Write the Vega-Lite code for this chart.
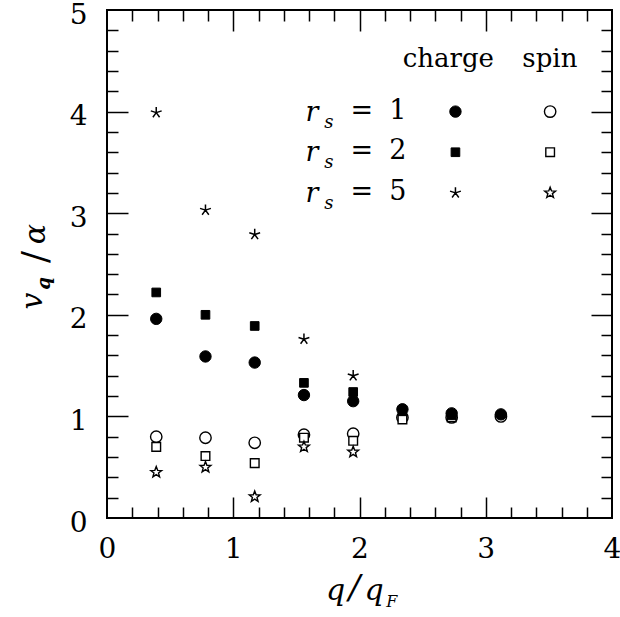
{
  "$schema": "https://vega.github.io/schema/vega-lite/v6.json",
  "width": 505,
  "height": 508,
  "autosize": {"type": "none"},
  "padding": {"left": 107, "top": 10, "right": 8, "bottom": 99},
  "background": "white",
  "config": {
    "view": {"stroke": "black", "strokeWidth": 2},
    "axis": {"grid": false, "domain": false, "tickColor": "black", "tickWidth": 1.5, "labelColor": "black", "labelFont": "DejaVu Serif", "labelFontSize": 28, "labelFlush": false, "labelOverlap": false, "labelBound": false}
  },
  "datasets": {
    "points": [
      {"series": "c1", "role": "data", "q": 0.39, "v": 1.96},
      {"series": "c1", "role": "data", "q": 0.78, "v": 1.59},
      {"series": "c1", "role": "data", "q": 1.17, "v": 1.53},
      {"series": "c1", "role": "data", "q": 1.56, "v": 1.21},
      {"series": "c1", "role": "data", "q": 1.95, "v": 1.15},
      {"series": "c1", "role": "data", "q": 2.34, "v": 1.07},
      {"series": "c1", "role": "data", "q": 2.73, "v": 1.03},
      {"series": "c1", "role": "data", "q": 3.12, "v": 1.02},
      {"series": "c1", "role": "key", "q": 2.76, "v": 4.0},
      {"series": "s1", "role": "data", "q": 0.39, "v": 0.8},
      {"series": "s1", "role": "data", "q": 0.78, "v": 0.79},
      {"series": "s1", "role": "data", "q": 1.17, "v": 0.74},
      {"series": "s1", "role": "data", "q": 1.56, "v": 0.82},
      {"series": "s1", "role": "data", "q": 1.95, "v": 0.83},
      {"series": "s1", "role": "data", "q": 2.34, "v": 0.99},
      {"series": "s1", "role": "data", "q": 2.73, "v": 0.99},
      {"series": "s1", "role": "data", "q": 3.12, "v": 1.0},
      {"series": "s1", "role": "key", "q": 3.51, "v": 4.0},
      {"series": "c2", "role": "data", "q": 0.39, "v": 2.22},
      {"series": "c2", "role": "data", "q": 0.78, "v": 2.0},
      {"series": "c2", "role": "data", "q": 1.17, "v": 1.89},
      {"series": "c2", "role": "data", "q": 1.56, "v": 1.33},
      {"series": "c2", "role": "data", "q": 1.95, "v": 1.24},
      {"series": "c2", "role": "data", "q": 2.34, "v": 1.05},
      {"series": "c2", "role": "data", "q": 2.73, "v": 1.01},
      {"series": "c2", "role": "key", "q": 2.76, "v": 3.6},
      {"series": "s2", "role": "data", "q": 0.39, "v": 0.7},
      {"series": "s2", "role": "data", "q": 0.78, "v": 0.61},
      {"series": "s2", "role": "data", "q": 1.17, "v": 0.54},
      {"series": "s2", "role": "data", "q": 1.56, "v": 0.79},
      {"series": "s2", "role": "data", "q": 1.95, "v": 0.76},
      {"series": "s2", "role": "data", "q": 2.34, "v": 0.97},
      {"series": "s2", "role": "data", "q": 2.73, "v": 0.99},
      {"series": "s2", "role": "key", "q": 3.51, "v": 3.6},
      {"series": "c5", "role": "data", "q": 0.39, "v": 3.99},
      {"series": "c5", "role": "data", "q": 0.78, "v": 3.03},
      {"series": "c5", "role": "data", "q": 1.17, "v": 2.79},
      {"series": "c5", "role": "data", "q": 1.56, "v": 1.76},
      {"series": "c5", "role": "data", "q": 1.95, "v": 1.4},
      {"series": "c5", "role": "key", "q": 2.76, "v": 3.2},
      {"series": "s5", "role": "data", "q": 0.39, "v": 0.45},
      {"series": "s5", "role": "data", "q": 0.78, "v": 0.5},
      {"series": "s5", "role": "data", "q": 1.17, "v": 0.21},
      {"series": "s5", "role": "data", "q": 1.56, "v": 0.7},
      {"series": "s5", "role": "data", "q": 1.95, "v": 0.65},
      {"series": "s5", "role": "key", "q": 3.51, "v": 3.2}
    ],
    "legendrows": [
      {"rs": "1", "v": 4.0},
      {"rs": "2", "v": 3.6},
      {"rs": "5", "v": 3.2}
    ]
  },
  "layer": [
    {
      "data": {"name": "points"},
      "mark": {"type": "point", "opacity": 0},
      "encoding": {
        "x": {"field": "q", "type": "quantitative", "scale": {"domain": [0, 4], "nice": false, "zero": false},
              "axis": {"orient": "bottom", "values": [0, 1, 2, 3, 4], "format": "d", "ticks": false, "labelPadding": 17, "title": null}},
        "y": {"field": "v", "type": "quantitative", "scale": {"domain": [0, 5], "nice": false, "zero": false},
              "axis": {"orient": "left", "values": [0, 1, 2, 3, 4, 5], "format": "d", "ticks": false, "labelPadding": 20, "labelOffset": 5, "title": null}}
      }
    },
    {
      "data": {"name": "points"},
      "mark": {"type": "point", "opacity": 0},
      "encoding": {
        "x": {"field": "q", "type": "quantitative", "scale": {"domain": [0, 4], "nice": false, "zero": false},
              "axis": {"orient": "bottom", "values": [1, 2, 3], "labels": false, "tickSize": -21, "title": null}},
        "y": {"field": "v", "type": "quantitative", "scale": {"domain": [0, 5], "nice": false, "zero": false},
              "axis": {"orient": "left", "values": [1, 2, 3, 4], "labels": false, "tickSize": -21, "title": null}}
      }
    },
    {
      "data": {"name": "points"},
      "mark": {"type": "point", "opacity": 0},
      "encoding": {
        "x": {"field": "q", "type": "quantitative", "scale": {"domain": [0, 4], "nice": false, "zero": false},
              "axis": {"orient": "bottom", "values": [0.2, 0.4, 0.6, 0.8, 1.2, 1.4, 1.6, 1.8, 2.2, 2.4, 2.6, 2.8, 3.2, 3.4, 3.6, 3.8], "labels": false, "tickSize": -11, "title": null}},
        "y": {"field": "v", "type": "quantitative", "scale": {"domain": [0, 5], "nice": false, "zero": false},
              "axis": {"orient": "left", "values": [0.2, 0.4, 0.6, 0.8, 1.2, 1.4, 1.6, 1.8, 2.2, 2.4, 2.6, 2.8, 3.2, 3.4, 3.6, 3.8, 4.2, 4.4, 4.6, 4.8], "labels": false, "tickSize": -11, "title": null}}
      }
    },
    {
      "data": {"name": "points"},
      "mark": {"type": "point", "opacity": 0},
      "encoding": {
        "x": {"field": "q", "type": "quantitative", "scale": {"domain": [0, 4], "nice": false, "zero": false},
              "axis": {"orient": "top", "values": [1, 2, 3], "labels": false, "tickSize": -21, "title": null}},
        "y": {"field": "v", "type": "quantitative", "scale": {"domain": [0, 5], "nice": false, "zero": false},
              "axis": {"orient": "right", "values": [1, 2, 3, 4], "labels": false, "tickSize": -21, "title": null}}
      }
    },
    {
      "data": {"name": "points"},
      "mark": {"type": "point", "opacity": 0},
      "encoding": {
        "x": {"field": "q", "type": "quantitative", "scale": {"domain": [0, 4], "nice": false, "zero": false},
              "axis": {"orient": "top", "values": [0.2, 0.4, 0.6, 0.8, 1.2, 1.4, 1.6, 1.8, 2.2, 2.4, 2.6, 2.8, 3.2, 3.4, 3.6, 3.8], "labels": false, "tickSize": -11, "title": null}},
        "y": {"field": "v", "type": "quantitative", "scale": {"domain": [0, 5], "nice": false, "zero": false},
              "axis": {"orient": "right", "values": [0.2, 0.4, 0.6, 0.8, 1.2, 1.4, 1.6, 1.8, 2.2, 2.4, 2.6, 2.8, 3.2, 3.4, 3.6, 3.8, 4.2, 4.4, 4.6, 4.8], "labels": false, "tickSize": -11, "title": null}}
      }
    },
    {
      "data": {"name": "points"},
      "transform": [{"filter": "datum.series === 's1'"}],
      "mark": {"type": "point", "shape": "circle", "filled": true, "fill": "white", "stroke": "black", "strokeWidth": 1.4, "size": 130, "opacity": 1},
      "encoding": {
        "x": {"field": "q", "type": "quantitative", "scale": {"domain": [0, 4], "nice": false, "zero": false}, "axis": null},
        "y": {"field": "v", "type": "quantitative", "scale": {"domain": [0, 5], "nice": false, "zero": false}, "axis": null}
      }
    },
    {
      "data": {"name": "points"},
      "transform": [{"filter": "datum.series === 's2'"}],
      "mark": {"type": "point", "shape": "square", "filled": true, "fill": "white", "stroke": "black", "strokeWidth": 1.4, "size": 75, "opacity": 1},
      "encoding": {
        "x": {"field": "q", "type": "quantitative", "scale": {"domain": [0, 4], "nice": false, "zero": false}, "axis": null},
        "y": {"field": "v", "type": "quantitative", "scale": {"domain": [0, 5], "nice": false, "zero": false}, "axis": null}
      }
    },
    {
      "data": {"name": "points"},
      "transform": [{"filter": "datum.series === 's5'"}],
      "mark": {"type": "point", "shape": "M0,-1L0.247,-0.34L0.951,-0.309L0.399,0.13L0.588,0.809L0,0.42L-0.588,0.809L-0.399,0.13L-0.951,-0.309L-0.247,-0.34Z", "filled": true, "fill": "white", "stroke": "black", "strokeWidth": 1.4, "size": 130, "opacity": 1},
      "encoding": {
        "x": {"field": "q", "type": "quantitative", "scale": {"domain": [0, 4], "nice": false, "zero": false}, "axis": null},
        "y": {"field": "v", "type": "quantitative", "scale": {"domain": [0, 5], "nice": false, "zero": false}, "axis": null}
      }
    },
    {
      "data": {"name": "points"},
      "transform": [{"filter": "datum.series === 'c1'"}],
      "mark": {"type": "point", "shape": "circle", "filled": true, "fill": "black", "stroke": "black", "strokeWidth": 1, "size": 130, "opacity": 1},
      "encoding": {
        "x": {"field": "q", "type": "quantitative", "scale": {"domain": [0, 4], "nice": false, "zero": false}, "axis": null},
        "y": {"field": "v", "type": "quantitative", "scale": {"domain": [0, 5], "nice": false, "zero": false}, "axis": null}
      }
    },
    {
      "data": {"name": "points"},
      "transform": [{"filter": "datum.series === 'c2'"}],
      "mark": {"type": "point", "shape": "square", "filled": true, "fill": "black", "stroke": "black", "strokeWidth": 1, "size": 75, "opacity": 1},
      "encoding": {
        "x": {"field": "q", "type": "quantitative", "scale": {"domain": [0, 4], "nice": false, "zero": false}, "axis": null},
        "y": {"field": "v", "type": "quantitative", "scale": {"domain": [0, 5], "nice": false, "zero": false}, "axis": null}
      }
    },
    {
      "data": {"name": "points"},
      "transform": [{"filter": "datum.series === 'c5'"}],
      "mark": {"type": "point", "shape": "M0,-1L0,0M0.951,-0.309L0,0M0.588,0.809L0,0M-0.588,0.809L0,0M-0.951,-0.309L0,0", "filled": false, "stroke": "black", "strokeWidth": 1.5, "size": 130, "opacity": 1},
      "encoding": {
        "x": {"field": "q", "type": "quantitative", "scale": {"domain": [0, 4], "nice": false, "zero": false}, "axis": null},
        "y": {"field": "v", "type": "quantitative", "scale": {"domain": [0, 5], "nice": false, "zero": false}, "axis": null}
      }
    },
    {
      "data": {"values": [{"label": "charge"}]},
      "mark": {"type": "text", "font": "DejaVu Serif", "fontSize": 26, "align": "center", "baseline": "alphabetic", "color": "black"},
      "encoding": {
        "x": {"datum": 2.704, "type": "quantitative", "scale": {"domain": [0, 4], "nice": false, "zero": false}, "axis": null},
        "y": {"datum": 4.442, "type": "quantitative", "scale": {"domain": [0, 5], "nice": false, "zero": false}, "axis": null},
        "text": {"field": "label"}
      }
    },
    {
      "data": {"values": [{"label": "spin"}]},
      "mark": {"type": "text", "font": "DejaVu Serif", "fontSize": 26, "align": "center", "baseline": "alphabetic", "color": "black"},
      "encoding": {
        "x": {"datum": 3.508, "type": "quantitative", "scale": {"domain": [0, 4], "nice": false, "zero": false}, "axis": null},
        "y": {"datum": 4.442, "type": "quantitative", "scale": {"domain": [0, 5], "nice": false, "zero": false}, "axis": null},
        "text": {"field": "label"}
      }
    },
    {
      "data": {"name": "legendrows"},
      "mark": {"type": "text", "font": "DejaVu Serif", "fontStyle": "italic", "fontSize": 27, "align": "center", "baseline": "alphabetic", "dy": 9, "color": "black", "text": "r"},
      "encoding": {
        "x": {"datum": 1.623, "type": "quantitative", "scale": {"domain": [0, 4], "nice": false, "zero": false}, "axis": null},
        "y": {"field": "v", "type": "quantitative", "scale": {"domain": [0, 5], "nice": false, "zero": false}, "axis": null}
      }
    },
    {
      "data": {"name": "legendrows"},
      "mark": {"type": "text", "font": "DejaVu Serif", "fontStyle": "italic", "fontSize": 18, "align": "center", "baseline": "alphabetic", "dy": 16, "color": "black", "text": "s"},
      "encoding": {
        "x": {"datum": 1.758, "type": "quantitative", "scale": {"domain": [0, 4], "nice": false, "zero": false}, "axis": null},
        "y": {"field": "v", "type": "quantitative", "scale": {"domain": [0, 5], "nice": false, "zero": false}, "axis": null}
      }
    },
    {
      "data": {"name": "legendrows"},
      "mark": {"type": "text", "font": "DejaVu Serif", "fontSize": 27, "align": "center", "baseline": "alphabetic", "dy": 7, "color": "black", "text": "="},
      "encoding": {
        "x": {"datum": 2.019, "type": "quantitative", "scale": {"domain": [0, 4], "nice": false, "zero": false}, "axis": null},
        "y": {"field": "v", "type": "quantitative", "scale": {"domain": [0, 5], "nice": false, "zero": false}, "axis": null}
      }
    },
    {
      "data": {"name": "legendrows"},
      "mark": {"type": "text", "font": "DejaVu Serif", "fontSize": 27, "align": "center", "baseline": "alphabetic", "dy": 7, "color": "black"},
      "encoding": {
        "x": {"datum": 2.304, "type": "quantitative", "scale": {"domain": [0, 4], "nice": false, "zero": false}, "axis": null},
        "y": {"field": "v", "type": "quantitative", "scale": {"domain": [0, 5], "nice": false, "zero": false}, "axis": null},
        "text": {"field": "rs"}
      }
    },
    {
      "data": {"values": [{"label": "q"}]},
      "mark": {"type": "text", "font": "DejaVu Serif", "fontStyle": "italic", "fontSize": 30, "align": "center", "baseline": "alphabetic", "color": "black"},
      "encoding": {
        "x": {"datum": 1.81, "type": "quantitative", "scale": {"domain": [0, 4], "nice": false, "zero": false}, "axis": null},
        "y": {"datum": -0.807, "type": "quantitative", "scale": {"domain": [0, 5], "nice": false, "zero": false}, "axis": null},
        "text": {"field": "label"}
      }
    },
    {
      "data": {"values": [{"label": "/"}]},
      "mark": {"type": "text", "font": "DejaVu Serif", "fontStyle": "italic", "fontSize": 34, "align": "center", "baseline": "alphabetic", "color": "black"},
      "encoding": {
        "x": {"datum": 1.96, "type": "quantitative", "scale": {"domain": [0, 4], "nice": false, "zero": false}, "axis": null},
        "y": {"datum": -0.8, "type": "quantitative", "scale": {"domain": [0, 5], "nice": false, "zero": false}, "axis": null},
        "text": {"field": "label"}
      }
    },
    {
      "data": {"values": [{"label": "q"}]},
      "mark": {"type": "text", "font": "DejaVu Serif", "fontStyle": "italic", "fontSize": 30, "align": "center", "baseline": "alphabetic", "color": "black"},
      "encoding": {
        "x": {"datum": 2.115, "type": "quantitative", "scale": {"domain": [0, 4], "nice": false, "zero": false}, "axis": null},
        "y": {"datum": -0.807, "type": "quantitative", "scale": {"domain": [0, 5], "nice": false, "zero": false}, "axis": null},
        "text": {"field": "label"}
      }
    },
    {
      "data": {"values": [{"label": "F"}]},
      "mark": {"type": "text", "font": "DejaVu Serif", "fontStyle": "italic", "fontSize": 16, "align": "center", "baseline": "alphabetic", "color": "black"},
      "encoding": {
        "x": {"datum": 2.255, "type": "quantitative", "scale": {"domain": [0, 4], "nice": false, "zero": false}, "axis": null},
        "y": {"datum": -0.876, "type": "quantitative", "scale": {"domain": [0, 5], "nice": false, "zero": false}, "axis": null},
        "text": {"field": "label"}
      }
    },
    {
      "data": {"values": [{"label": "v"}]},
      "mark": {"type": "text", "font": "DejaVu Serif", "fontStyle": "italic", "fontSize": 30, "align": "center", "baseline": "alphabetic", "angle": 270, "color": "black"},
      "encoding": {
        "x": {"datum": -0.515, "type": "quantitative", "scale": {"domain": [0, 4], "nice": false, "zero": false}, "axis": null},
        "y": {"datum": 2.136, "type": "quantitative", "scale": {"domain": [0, 5], "nice": false, "zero": false}, "axis": null},
        "text": {"field": "label"}
      }
    },
    {
      "data": {"values": [{"label": "q"}]},
      "mark": {"type": "text", "font": "DejaVu Serif", "fontStyle": "italic", "fontWeight": "bold", "fontSize": 18, "align": "center", "baseline": "alphabetic", "angle": 270, "color": "black"},
      "encoding": {
        "x": {"datum": -0.455, "type": "quantitative", "scale": {"domain": [0, 4], "nice": false, "zero": false}, "axis": null},
        "y": {"datum": 2.308, "type": "quantitative", "scale": {"domain": [0, 5], "nice": false, "zero": false}, "axis": null},
        "text": {"field": "label"}
      }
    },
    {
      "data": {"values": [{"label": "/"}]},
      "mark": {"type": "text", "font": "DejaVu Serif", "fontSize": 36, "align": "center", "baseline": "alphabetic", "angle": 270, "color": "black"},
      "encoding": {
        "x": {"datum": -0.475, "type": "quantitative", "scale": {"domain": [0, 4], "nice": false, "zero": false}, "axis": null},
        "y": {"datum": 2.569, "type": "quantitative", "scale": {"domain": [0, 5], "nice": false, "zero": false}, "axis": null},
        "text": {"field": "label"}
      }
    },
    {
      "data": {"values": [{"label": "α"}]},
      "mark": {"type": "text", "font": "DejaVu Serif", "fontStyle": "italic", "fontSize": 30, "align": "center", "baseline": "alphabetic", "angle": 270, "color": "black"},
      "encoding": {
        "x": {"datum": -0.495, "type": "quantitative", "scale": {"domain": [0, 4], "nice": false, "zero": false}, "axis": null},
        "y": {"datum": 2.795, "type": "quantitative", "scale": {"domain": [0, 5], "nice": false, "zero": false}, "axis": null},
        "text": {"field": "label"}
      }
    }
  ],
  "resolve": {"axis": {"x": "independent", "y": "independent"}}
}
